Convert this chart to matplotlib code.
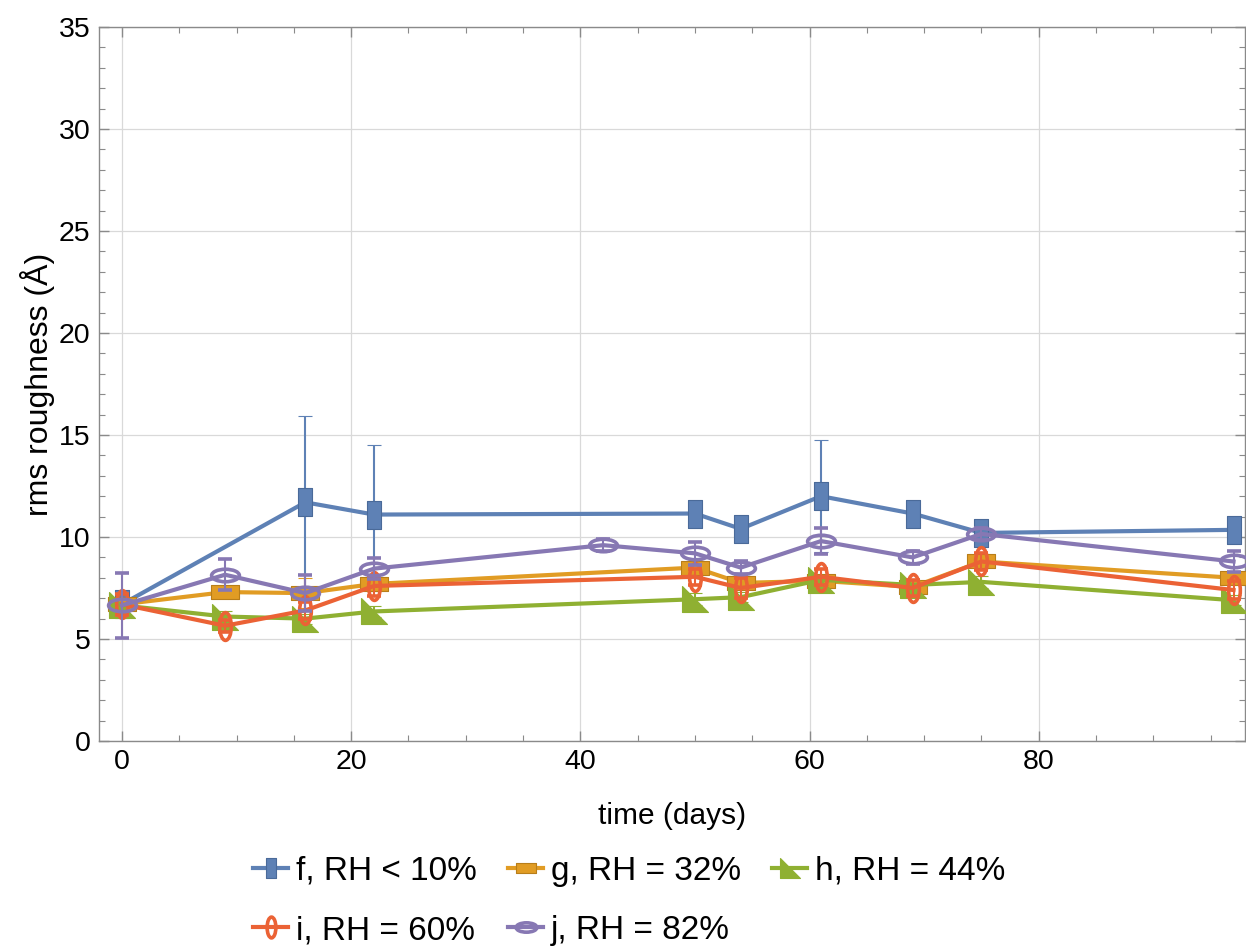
import numpy as np
import matplotlib
matplotlib.use("Agg")
import matplotlib.pyplot as plt
from matplotlib.path import Path
from matplotlib.transforms import Affine2D
from matplotlib.ticker import MultipleLocator

plt.rcParams['font.family'] = ['Liberation Sans', 'DejaVu Sans']

# data (time in days, rms roughness in Angstrom)
x_f = [0, 16, 22, 50, 54, 61, 69, 75, 97]
y_f = [6.7, 11.7, 11.1, 11.15, 10.4, 12.0, 11.15, 10.2, 10.35]
e_f = [0.5, 4.25, 3.4, 0.6, 0.5, 2.75, 0.45, 0.4, 0.5]

x_g = [0, 9, 16, 22, 50, 54, 61, 69, 75, 97]
y_g = [6.7, 7.3, 7.25, 7.7, 8.5, 7.75, 7.85, 7.55, 8.8, 8.0]
e_g = [0.3, 0.3, 0.75, 0.35, 0.35, 0.3, 0.3, 0.3, 0.3, 0.3]

x_h = [0, 9, 16, 22, 50, 54, 61, 69, 75, 97]
y_h = [6.65, 6.1, 6.0, 6.35, 6.95, 7.05, 7.9, 7.65, 7.8, 6.9]
e_h = [0.3, 0.25, 0.25, 0.25, 0.3, 0.25, 0.25, 0.25, 0.3, 0.25]

x_i = [0, 9, 16, 22, 50, 54, 61, 69, 75, 97]
y_i = [6.7, 5.65, 6.4, 7.6, 8.05, 7.5, 8.05, 7.5, 8.8, 7.4]
e_i = [0.5, 0.3, 0.4, 0.5, 0.4, 0.5, 0.4, 0.4, 0.4, 0.45]

x_j = [0, 9, 16, 22, 42, 50, 54, 61, 69, 75, 97]
y_j = [6.65, 8.15, 7.25, 8.45, 9.6, 9.2, 8.5, 9.8, 9.0, 10.15, 8.8]
e_j = [1.58, 0.75, 0.9, 0.5, 0.3, 0.57, 0.3, 0.62, 0.3, 0.3, 0.52]

labels = ['f, RH < 10%', 'g, RH = 32%', 'h, RH = 44%', 'i, RH = 60%', 'j, RH = 82%']
colors = ['#5E81B5', '#E19C24', '#8FB032', '#EB6235', '#8778B3']
edges = ['#4A6A99', '#B87E1A', '#8FB032', '#EB6235', '#8778B3']

# marker shapes
rect_tall = Path([(-0.24, -0.5), (0.24, -0.5), (0.24, 0.5), (-0.24, 0.5), (-0.24, -0.5)], closed=True)
rect_wide = Path([(-0.5, -0.24), (0.5, -0.24), (0.5, 0.24), (-0.5, 0.24), (-0.5, -0.24)], closed=True)
tri = Path([(-0.5, 0.5), (-0.5, -0.5), (0.5, -0.5), (-0.5, 0.5)], closed=True)
ell_tall = Path.unit_circle().transformed(Affine2D().scale(0.42, 1.0))
ell_wide = Path.unit_circle().transformed(Affine2D().scale(1.0, 0.45))

series = [
    (x_f, y_f, e_f, rect_tall, 20, True),
    (x_g, y_g, e_g, rect_wide, 20, True),
    (x_h, y_h, e_h, tri, 19, True),
    (x_i, y_i, e_i, ell_tall, 20, False),
    (x_j, y_j, e_j, ell_wide, 20, False),
]

fig = plt.figure(figsize=(12.46, 9.47), dpi=100)
ax = fig.add_axes([99 / 1246, 1 - 741 / 947, 1146 / 1246, 714 / 947])

handles = []
for k, (xs, ys, es, mk, ms, filled) in enumerate(series):
    c = colors[k]
    cont = ax.errorbar(xs, ys, yerr=es, color=c, lw=3.0, elinewidth=1.5,
                       capsize=4.7, capthick=1.5, marker=mk, ms=ms,
                       mfc=c if filled else 'none', mec=edges[k],
                       mew=0.8 if filled else 2.6, zorder=3 + k)
    handles.append(cont.lines[0])

ax.set_xlim(-2, 98)
ax.set_ylim(0, 35)
ax.xaxis.set_major_locator(MultipleLocator(20))
ax.xaxis.set_minor_locator(MultipleLocator(5))
ax.yaxis.set_major_locator(MultipleLocator(5))
ax.yaxis.set_minor_locator(MultipleLocator(1))
ax.grid(True, which='major', color='#d9d9d9', lw=0.9, zorder=0)
ax.set_axisbelow(True)

for sp in ax.spines.values():
    sp.set_color('#8a8a8a')
    sp.set_linewidth(1.0)
ax.tick_params(which='both', direction='in', top=True, right=True,
               color='#8a8a8a', labelsize=20.5, pad=6)
ax.tick_params(which='major', length=7, width=1.0)
ax.tick_params(which='minor', length=4, width=0.8)

ax.set_xlabel('time (days)', fontsize=21.5, labelpad=19)
ax.set_ylabel('rms roughness (Å)', fontsize=23, labelpad=3)

order = [0, 3, 1, 4, 2]
fig.legend([handles[i] for i in order], [labels[i] for i in order],
           loc='upper center', bbox_to_anchor=(0.505, 0.128), ncol=3,
           frameon=False, fontsize=24, handlelength=1.05, handletextpad=0.22,
           columnspacing=0.95, labelspacing=0.85, markerscale=0.75)

fig.savefig('out.png', dpi=100)
